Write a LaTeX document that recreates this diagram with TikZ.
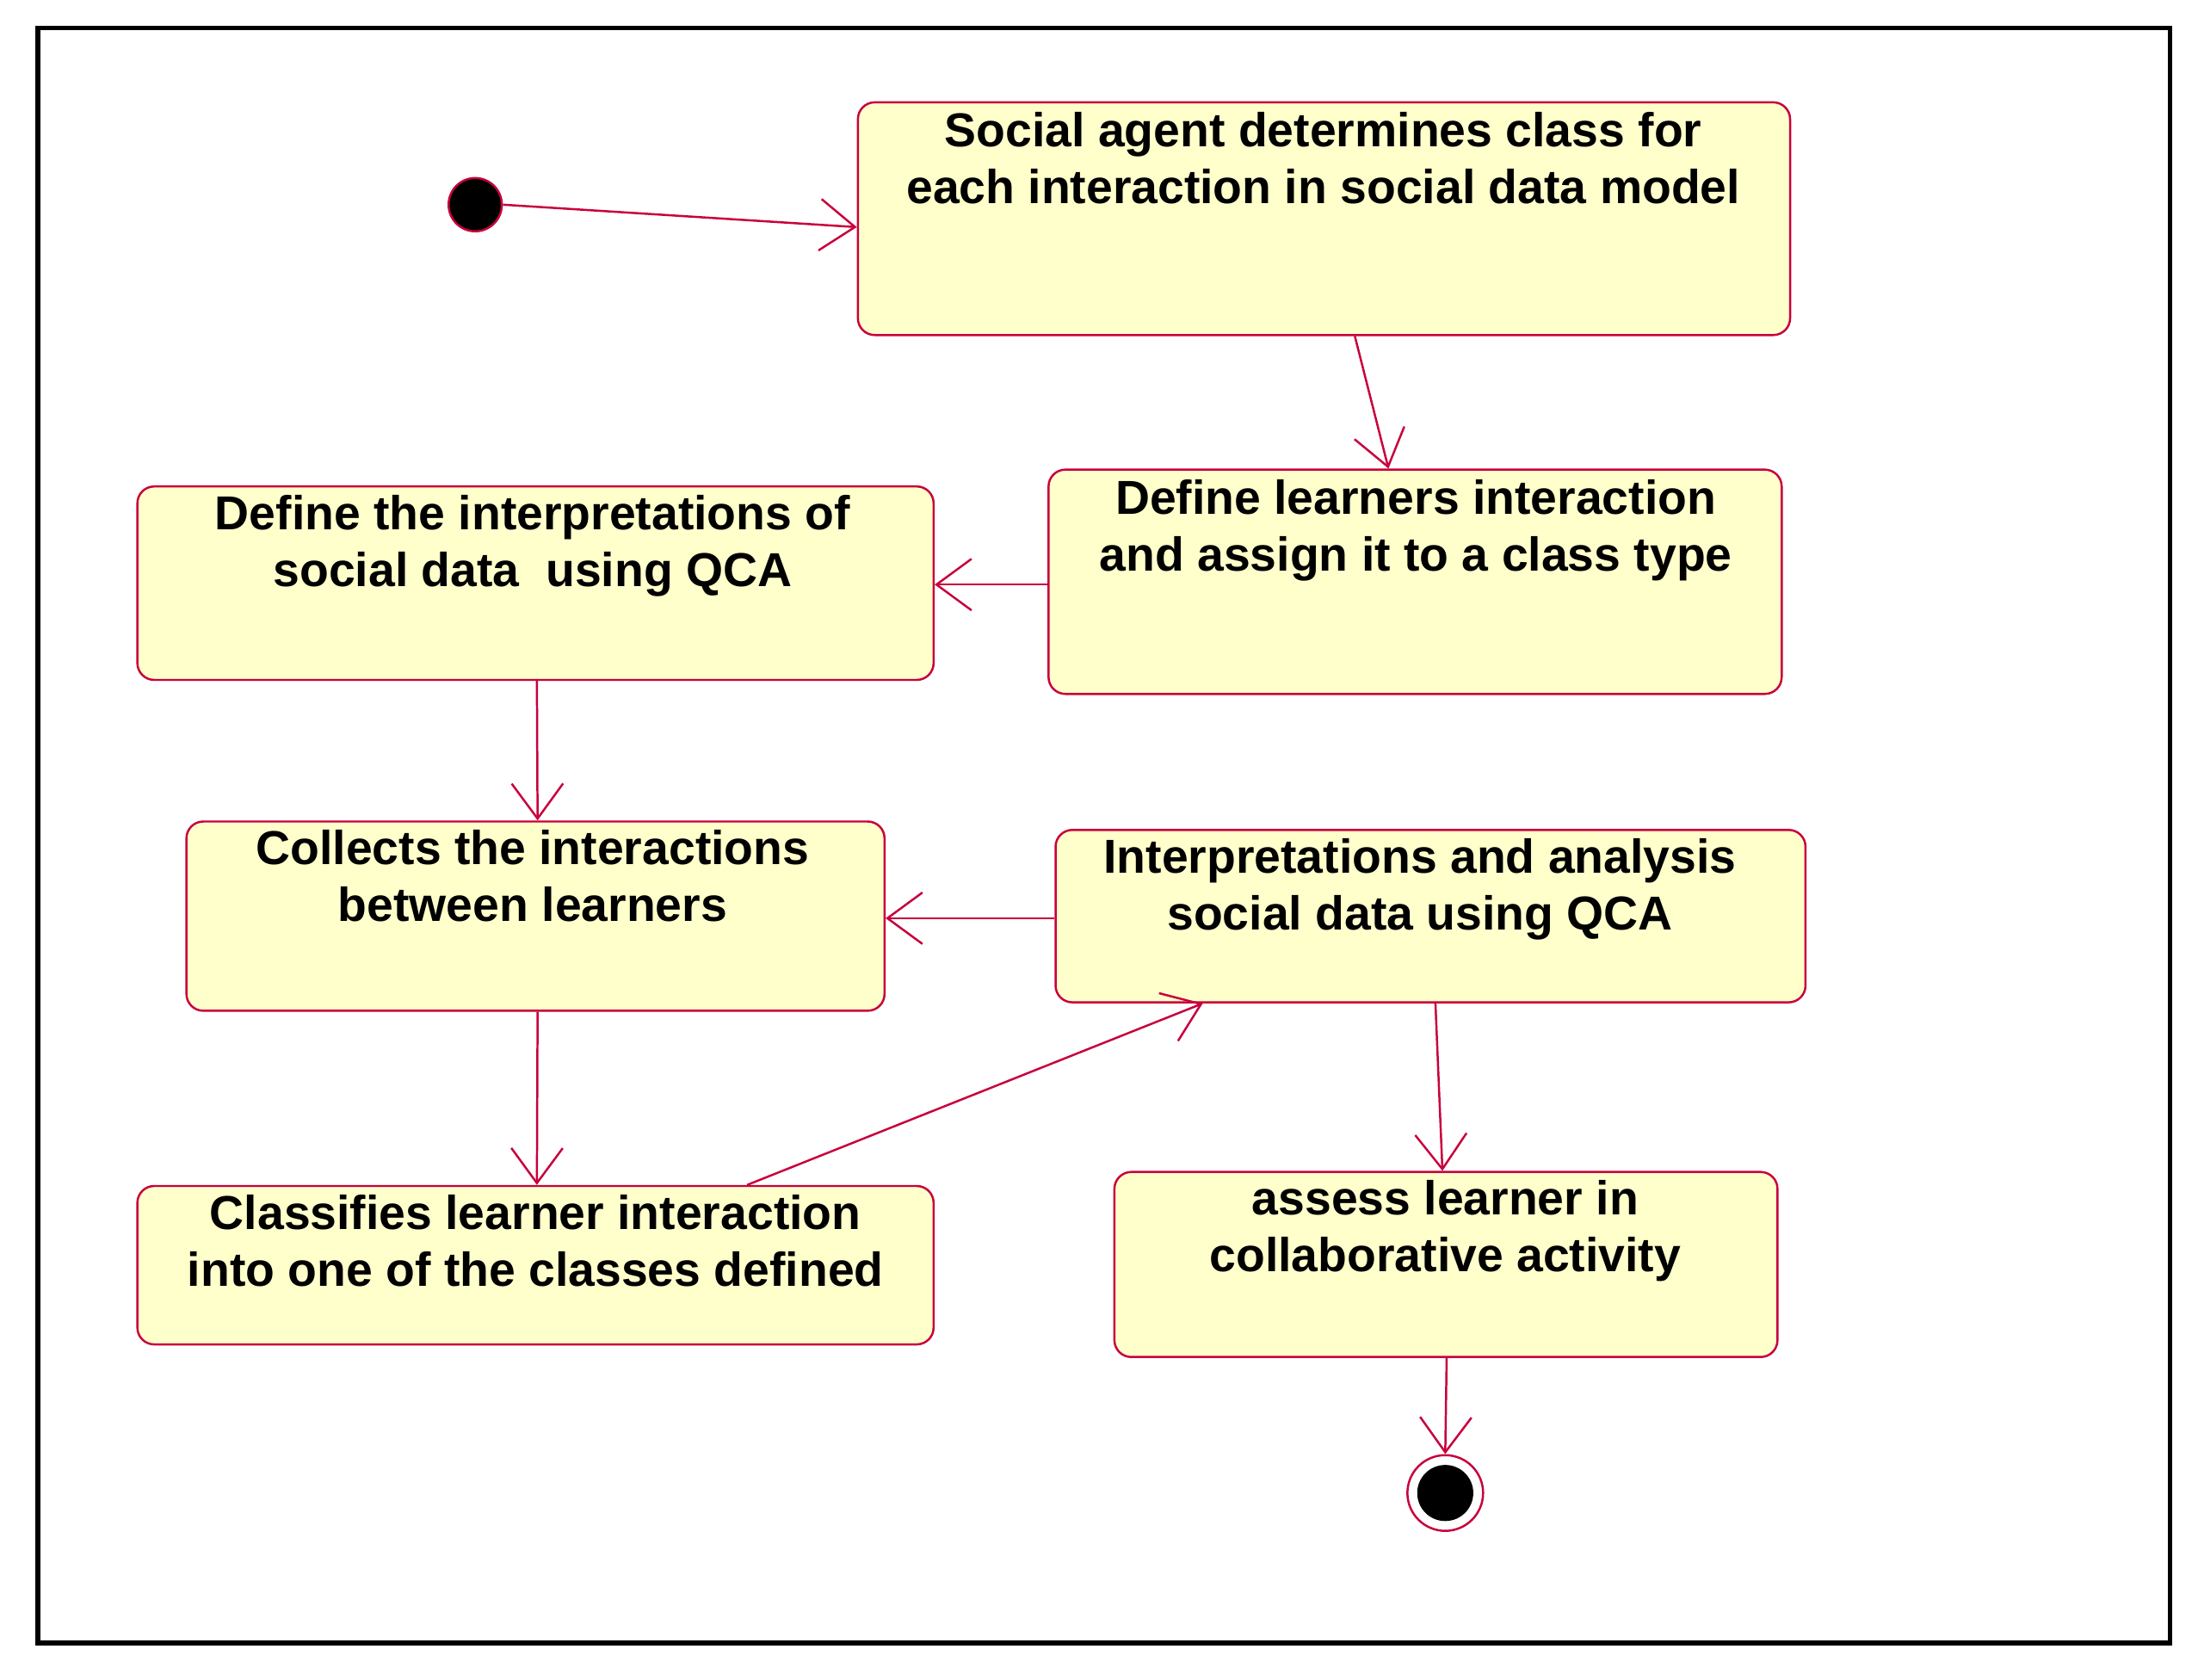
\documentclass[tikz,border=0pt]{standalone}
\usepackage{fontspec}
\setmainfont{Liberation Sans}
\usetikzlibrary{arrows.meta,calc}
\definecolor{bfill}{RGB}{255,255,204}
\definecolor{bline}{RGB}{200,0,60}
\newcommand\mybox[5]{\node[box,minimum width={(#4)*0.03cm},minimum height={(#5)*0.03cm}] (#1) at ({#2+(#4)/2},{#3+(#5)/2}) {};}
\begin{document}
\begin{tikzpicture}[x=0.03cm,y=-0.03cm,
 box/.style={draw=bline,fill=bfill,rounded corners=0.36cm,line width=1.3pt,inner sep=0pt},
 txt/.style={anchor=north,align=center,font=\bfseries\fontsize{29}{34.5}\selectfont,inner sep=0pt},
 arr/.style={draw=bline,line width=1.3pt,-{Straight Barb[length=0.75cm,width=1.1cm,line width=1.3pt]}}]
\useasboundingbox (0,0) rectangle (1568,1198);
\node[draw=black,line width=3pt,minimum width={1521*0.03cm},minimum height={1152*0.03cm},inner sep=0pt] (frame) at (787.5,596) {};
\node[circle,fill=black,draw=bline,line width=1.3pt,minimum size={38*0.03cm},inner sep=0pt] (start) at (339,146) {};
\mybox{a1}{612}{73}{665}{166}
\mybox{a2}{748}{335}{523}{160}
\mybox{a3}{98}{347}{568}{138}
\mybox{a4}{133}{586}{498}{135}
\mybox{a5}{753}{592}{535}{123}
\mybox{a6}{98}{846}{568}{113}
\mybox{a7}{795}{836}{473}{132}
\node[txt] (t1) at (944,80) {Social agent determines class for\\each interaction in social data model};
\node[txt] (t2) at (1010,342) {Define learners interaction\\and assign it to a class type};
\node[txt] (t3) at (380,353) {Define the interpretations of\\social data \ using QCA};
\node[txt] (t4) at (380,592) {Collects the interactions\\between learners};
\node[txt] (t5) at (1013,598) {Interpretations and analysis\\social data using QCA};
\node[txt] (t6) at (382,852) {Classifies learner interaction\\into one of the classes defined};
\node[txt] (t7) at (1031,842) {assess learner in\\collaborative activity};
\node[circle,draw=bline,line width=1.3pt,fill=white,minimum size={54*0.03cm},inner sep=0pt] (end) at (1031,1065) {};
\node[circle,fill=black,minimum size={40*0.03cm},inner sep=0pt] (endin) at (1031,1065) {};
\draw[arr] (start.east) -- ([yshift={-6*0.03cm}]a1.west);
\draw[arr] ([xshift={22*0.03cm}]a1.south) -- ([xshift={-19*0.03cm}]a2.north);
\draw[arr] ([yshift={-2*0.03cm}]a2.west) -- ([yshift={-1*0.03cm}]a3.east);
\draw[arr] ([xshift={1*0.03cm}]a3.south) -- ([xshift={1.5*0.03cm}]a4.north);
\draw[arr] ([yshift={-1.5*0.03cm}]a5.west) -- ([yshift={-1.5*0.03cm}]a4.east);
\draw[arr] ([xshift={1.5*0.03cm}]a4.south) -- ([xshift={1*0.03cm}]a6.north);
\draw[arr] ([xshift={151*0.03cm}]a6.north) -- ([xshift={-162.5*0.03cm}]a5.south);
\draw[arr] ([xshift={3.5*0.03cm}]a5.south) -- ([xshift={-2.5*0.03cm}]a7.north);
\draw[arr] ([xshift={0.5*0.03cm}]a7.south) -- (end.north);
\end{tikzpicture}
\end{document}
